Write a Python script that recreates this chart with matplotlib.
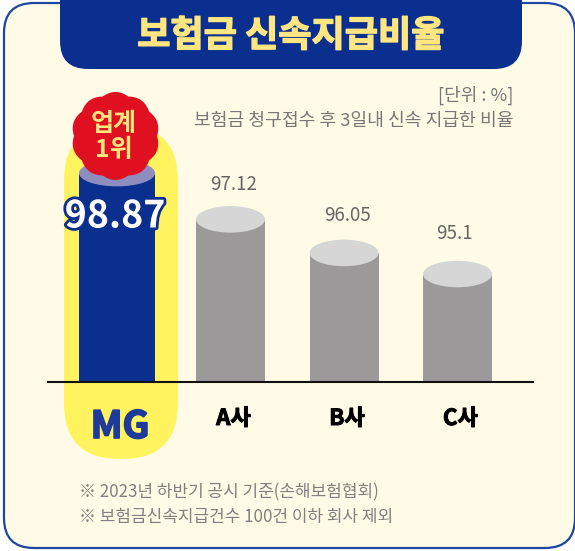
import numpy as np
import matplotlib
matplotlib.use('Agg')
import matplotlib.pyplot as plt
import matplotlib.patheffects as pe
from matplotlib.patches import Ellipse, FancyBboxPatch, Polygon
from matplotlib.transforms import ScaledTranslation

categories = ['MG', 'A사', 'B사', 'C사']
value_labels = ['98.87', '97.12', '96.05', '95.1']
# drawn heights, the bars are not quite to scale
bar_levels = [98.83, 97.12, 95.88, 95.1]

title = '보험금 신속지급비율'
unit_note = '[단위 : %]'
sub_note = '보험금 청구접수 후 3일내 신속 지급한 비율'
foot_notes = ['※ 2023년 하반기 공시 기준(손해보험협회)',
              '※ 보험금신속지급건수 100건 이하 회사 제외']
badge_lines = '업계\n1위'

W, H = 575, 551
NAVY = '#0B2F8E'
GOLD = '#FFE680'
plt.rcParams['font.family'] = ['Noto Sans CJK KR', 'DejaVu Sans']

fig = plt.figure(figsize=(W / 100, H / 100), dpi=100, facecolor='white')

# background layer in pixel coordinates
bg = fig.add_axes([0, 0, 1, 1], zorder=0)
bg.set_xlim(0, W)
bg.set_ylim(H, 0)
bg.axis('off')
bg.add_patch(FancyBboxPatch((4, 3), 571, 545, boxstyle='round,pad=0,rounding_size=30',
                            fc='#FFFBE6', ec='#1D46A0', lw=1.6, zorder=1))
bg.add_patch(FancyBboxPatch((60, -40), 462, 109, boxstyle='round,pad=0,rounding_size=28',
                            fc=NAVY, ec='none', zorder=2))
bg.text(291, 36, title, color=GOLD, fontsize=26, fontweight='black', ha='center', va='center', zorder=3,
        path_effects=[pe.withStroke(linewidth=1, foreground=GOLD)])
bg.text(513, 95, unit_note, color='#777777', fontsize=13, ha='right', va='center', zorder=3)
bg.text(513, 121, sub_note, color='#777777', fontsize=13.1, ha='right', va='center', zorder=3)
for i, note in enumerate(foot_notes):
    bg.text(79, 492 + i * 25, note, color='#808080', fontsize=12.2, ha='left', va='center', zorder=3)

# highlight pill behind MG
bg.add_patch(FancyBboxPatch((64, 125), 114, 334, boxstyle='round,pad=0,rounding_size=56',
                            fc='#FFF45F', ec='none', zorder=2))

# chart axes, bottom spine is the baseline
x0, x1, top, base = 48, 533, 60, 382
ax = fig.add_axes([x0 / W, 1 - base / H, (x1 - x0) / W, (base - top) / H], zorder=1)
ax.patch.set_alpha(0)
ax.set_xlim(-0.608, 3.665)
ax.set_ylim(91.11, 103.01)
for s in ['top', 'left', 'right']:
    ax.spines[s].set_visible(False)
ax.spines['bottom'].set_linewidth(1.5)
ax.spines['bottom'].set_color('#111111')
ax.set_yticks([])

xs = np.arange(len(categories))
widths = [0.67, 0.608, 0.608, 0.608]
colors = [NAVY, '#9B999A', '#9B999A', '#9B999A']
caps = ['#8E8DC0', '#D6D6D6', '#D6D6D6', '#D6D6D6']
ax.bar(xs, bar_levels, width=widths, color=colors, zorder=2)
for x, v, w, c in zip(xs, bar_levels, widths, caps):
    ax.add_patch(Ellipse((x, v), w, 0.98, fc=c, ec='none', zorder=3))

ax.set_xticks(xs, categories)
ax.tick_params(axis='x', length=0, pad=18)
shift = ScaledTranslation(3 / 100, 0, fig.dpi_scale_trans)
for lab, col in zip(ax.get_xticklabels(), ['#1E3A9A', 'black', 'black', 'black']):
    lab.set_color(col)
    lab.set_fontweight('black')
    lab.set_fontsize(16)
    lab.set_transform(lab.get_transform() + shift)
    lab.set_path_effects([pe.withStroke(linewidth=0.7, foreground=col)])
mg = ax.get_xticklabels()[0]
mg.set_fontsize(27)
mg.set_path_effects([pe.withStroke(linewidth=1.2, foreground='#1E3A9A')])

for x, v, lab, dx, gap in zip(xs[1:], bar_levels[1:], value_labels[1:], [2.5, 2.5, -2], [25, 27, 29.5]):
    ax.annotate(lab, (x, v), xytext=(dx, gap), textcoords='offset points', ha='center', va='center',
                color='#666666', fontsize=13.5)

# badge and main value on top
fg = fig.add_axes([0, 0, 1, 1], zorder=2)
fg.set_xlim(0, W)
fg.set_ylim(H, 0)
fg.axis('off')
a = np.linspace(0, 2 * np.pi, 400)
r = 41.5 + 2.5 * np.abs(np.cos(a * 5))
fg.add_patch(Polygon(np.c_[115.5 + r * np.sin(a), 136 + r * np.cos(a)], fc='#DF1020', ec='none'))
fg.text(114, 137, badge_lines, color=GOLD, fontsize=18, fontweight='bold', ha='center', va='center',
        linespacing=1.12)
fg.text(115, 216, value_labels[0], color='white', fontsize=27, fontweight='black', ha='center', va='center',
        path_effects=[pe.withStroke(linewidth=4, foreground=NAVY)])

fig.savefig('out.png', dpi=100)
